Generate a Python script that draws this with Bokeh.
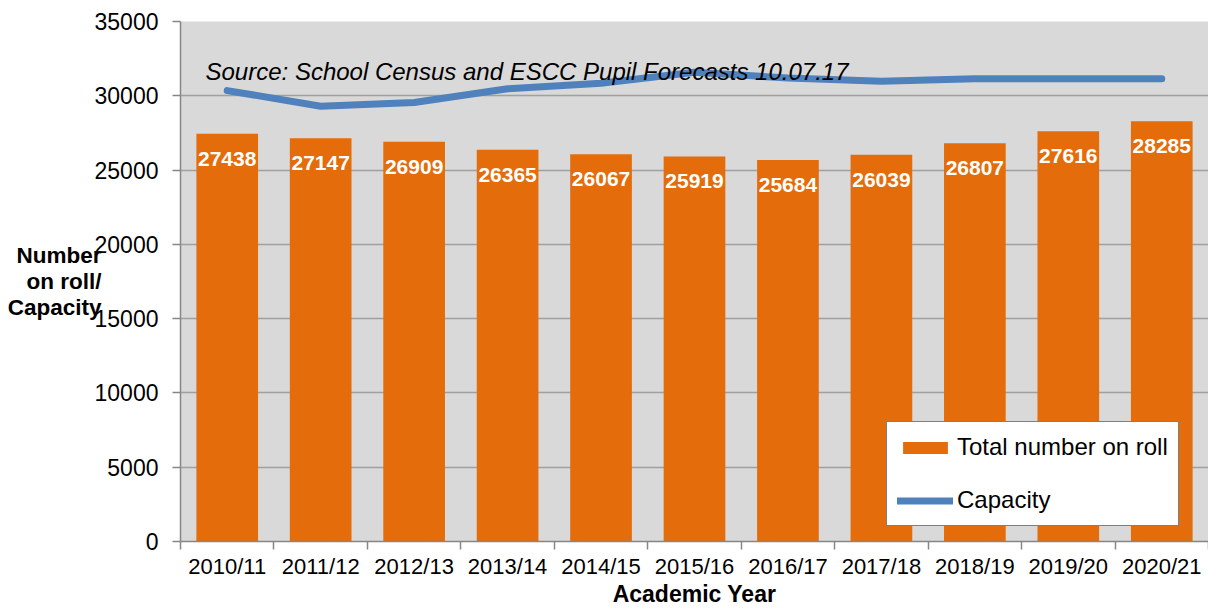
from bokeh.plotting import figure
from bokeh.models import (Range1d, FixedTicker, ColumnDataSource, LabelSet, Label, Legend)
from bokeh.core.properties import value
from bokeh.embed import file_html
from bokeh.resources import INLINE

categories = ["2010/11", "2011/12", "2012/13", "2013/14", "2014/15", "2015/16",
              "2016/17", "2017/18", "2018/19", "2019/20", "2020/21"]
total_on_roll = [27438, 27147, 26909, 26365, 26067, 25919, 25684, 26039, 26807, 27616, 28285]
capacity = [30350, 29300, 29550, 30470, 30850, 31590, 31190, 30980, 31140, 31140, 31140]
y_ticks = [0, 5000, 10000, 15000, 20000, 25000, 30000, 35000]

FONT = "Liberation Sans"
ORANGE = "#E46C0A"
BLUE = "#4F81BD"
GRAY = "#868686"

n = len(categories)
xs = list(range(1, n + 1))
src = ColumnDataSource(dict(x=xs, total=total_on_roll, cap=capacity,
                            lbl=[str(v) for v in total_on_roll]))

p = figure(width=1208, height=609, output_backend="svg", toolbar_location=None,
           x_range=Range1d(0.5, n + 0.5), y_range=Range1d(0, 35000),
           min_border_left=180, min_border_right=0, min_border_top=21, min_border_bottom=68)
p.background_fill_color = "#D9D9D9"
p.border_fill_color = "white"
p.outline_line_color = None

bars = p.vbar(x="x", top="total", width=0.66, source=src, fill_color=ORANGE, line_color=None)
line = p.line(x="x", y="cap", source=src, line_color=BLUE, line_width=7, line_cap="round",
              line_join="round")

# grid
p.xgrid.visible = False
p.ygrid.ticker = FixedTicker(ticks=y_ticks)
p.ygrid.grid_line_color = "#A0A0A0"
p.ygrid.grid_line_width = 1.5

# y axis
p.yaxis.ticker = FixedTicker(ticks=y_ticks)
p.yaxis.axis_line_color = GRAY
p.yaxis.axis_line_width = 1.5
p.yaxis.major_tick_line_color = GRAY
p.yaxis.major_tick_line_width = 1.5
p.yaxis.major_tick_out = 8
p.yaxis.major_tick_in = 0
p.yaxis.minor_tick_line_color = None
p.yaxis.major_label_text_font = FONT
p.yaxis.major_label_text_font_size = "23px"
p.yaxis.major_label_text_color = "black"
p.yaxis.major_label_standoff = 14
p.yaxis.formatter.use_scientific = False
p.yaxis.axis_label = "Number\non roll/\nCapacity"
p.yaxis.axis_label_orientation = "horizontal"
p.yaxis.axis_label_text_font = FONT
p.yaxis.axis_label_text_font_size = "22.5px"
p.yaxis.axis_label_text_font_style = "bold"
p.yaxis.axis_label_text_color = "black"
p.yaxis.axis_label_text_align = "center"
p.yaxis.axis_label_text_line_height = 1.05
p.yaxis.axis_label_standoff = -10

# x axis
p.xaxis.ticker = FixedTicker(ticks=xs, minor_ticks=[i + 0.5 for i in range(0, n + 1)])
p.xaxis.major_label_overrides = {x: c for x, c in zip(xs, categories)}
p.xaxis.axis_line_color = GRAY
p.xaxis.axis_line_width = 1.5
p.xaxis.major_tick_out = 0
p.xaxis.major_tick_in = 0
p.xaxis.minor_tick_out = 8
p.xaxis.minor_tick_in = 0
p.xaxis.minor_tick_line_color = GRAY
p.xaxis.minor_tick_line_width = 1.5
p.xaxis.major_label_text_font = FONT
p.xaxis.major_label_text_font_size = "22px"
p.xaxis.major_label_text_color = "black"
p.xaxis.major_label_standoff = 4
p.xaxis.axis_label = "Academic Year"
p.xaxis.axis_label_text_font = FONT
p.xaxis.axis_label_text_font_size = "23px"
p.xaxis.axis_label_text_font_style = "bold"
p.xaxis.axis_label_text_color = "black"
p.xaxis.axis_label_standoff = -1

# bar value labels
labels = LabelSet(x="x", y="total", text="lbl", source=src, y_offset=-25,
                  text_align="center", text_baseline="middle", text_color="white",
                  text_font=value(FONT), text_font_size="21px", text_font_style="bold")
p.add_layout(labels)

# source note
p.add_layout(Label(x=0.7675, y=31655, text="Source: School Census and ESCC Pupil Forecasts 10.07.17",
                   text_font=FONT, text_font_size="24px", text_font_style="italic",
                   text_color="black", text_baseline="alphabetic", text_align="left"))

legend = Legend(items=[("Total number on roll", [bars]), ("Capacity", [line])],
                location=(706, 15))
legend.label_text_font = FONT
legend.label_text_font_size = "24px"
legend.label_text_color = "black"
legend.border_line_color = "black"
legend.border_line_width = 1.5
legend.background_fill_color = "white"
legend.background_fill_alpha = 1
legend.glyph_width = 56
legend.glyph_height = 15
legend.label_height = 30
legend.label_standoff = 4
legend.spacing = 23
legend.padding = 10
legend.margin = 0
p.add_layout(legend)

open("out.html", "w").write(file_html(p, INLINE))
